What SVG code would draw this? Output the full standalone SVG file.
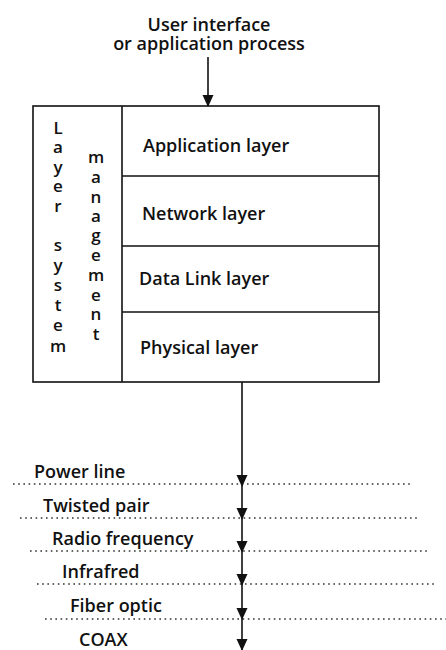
<svg xmlns="http://www.w3.org/2000/svg" width="446" height="650" viewBox="0 0 446 650">
<defs>
<marker id="ah" markerWidth="12" markerHeight="12" refX="11" refY="5.5" orient="auto" markerUnits="userSpaceOnUse">
<path d="M0,0 L12,5.5 L0,11 Z" fill="#111"/>
</marker>
<style>
text{font-family:"Open Sans","Noto Sans",sans-serif;font-size:18px;font-weight:600;fill:#111}
.v{text-anchor:middle;font-size:17px}
.box{fill:#fff;stroke:#111;stroke-width:1.6}
.ln{stroke:#111;stroke-width:1.6;fill:none}
.dot{stroke:#333;stroke-width:1.5;stroke-dasharray:1.6 3.6;fill:none}
</style>
</defs>
<rect width="446" height="650" fill="#fff"/>
<g id="title">
<text x="209" y="31" text-anchor="middle">User interface</text>
<text x="209" y="50" text-anchor="middle">or application process</text>
</g>
<g id="stack">
<rect class="box" x="33" y="106" width="346" height="276"/>
<line class="ln" x1="122" y1="106" x2="122" y2="382"/>
<line class="ln" x1="122" y1="176" x2="379" y2="176"/>
<line class="ln" x1="122" y1="246" x2="379" y2="246"/>
<line class="ln" x1="122" y1="312" x2="379" y2="312"/>
</g>
<g id="layer-system-management">
<text class="v"><tspan x="58" y="134">L</tspan><tspan x="58" y="153">a</tspan><tspan x="58" y="173">y</tspan><tspan x="58" y="192">e</tspan><tspan x="58" y="212">r</tspan><tspan x="58" y="251">s</tspan><tspan x="58" y="271">y</tspan><tspan x="58" y="291">s</tspan><tspan x="58" y="311">t</tspan><tspan x="58" y="331">e</tspan><tspan x="58" y="352">m</tspan></text>
<text class="v"><tspan x="96" y="163">m</tspan><tspan x="96" y="183">a</tspan><tspan x="96" y="203">n</tspan><tspan x="96" y="222">a</tspan><tspan x="96" y="241">g</tspan><tspan x="96" y="261">e</tspan><tspan x="96" y="281">m</tspan><tspan x="96" y="301">e</tspan><tspan x="96" y="320">n</tspan><tspan x="96" y="340">t</tspan></text>
</g>
<g id="application-layer"><text x="143" y="152">Application layer</text></g>
<g id="network-layer"><text x="142" y="220">Network layer</text></g>
<g id="data-link-layer"><text x="139" y="285">Data Link layer</text></g>
<g id="physical-layer"><text x="140" y="354">Physical layer</text></g>
<g id="media">
<line class="dot" x1="13" y1="484" x2="413" y2="484"/>
<line class="dot" x1="20" y1="518" x2="418" y2="518"/>
<line class="dot" x1="30" y1="551" x2="428" y2="551"/>
<line class="dot" x1="37" y1="584" x2="437" y2="584"/>
<line class="dot" x1="45" y1="619" x2="446" y2="619"/>
<text x="34" y="478">Power line</text>
<text x="43" y="512">Twisted pair</text>
<text x="52" y="545">Radio frequency</text>
<text x="62" y="578">Infrafred</text>
<text x="70" y="612">Fiber optic</text>
<text x="79" y="646">COAX</text>
</g>
<g id="connectors">
<line class="ln" x1="208" y1="57" x2="208" y2="106" marker-end="url(#ah)"/>
<line class="ln" x1="242" y1="382" x2="242" y2="486" marker-end="url(#ah)"/>
<line class="ln" x1="242" y1="486" x2="242" y2="519" marker-end="url(#ah)"/>
<line class="ln" x1="242" y1="519" x2="242" y2="552" marker-end="url(#ah)"/>
<line class="ln" x1="242" y1="552" x2="242" y2="585" marker-end="url(#ah)"/>
<line class="ln" x1="242" y1="585" x2="242" y2="619" marker-end="url(#ah)"/>
<line class="ln" x1="242" y1="619" x2="242" y2="650" marker-end="url(#ah)"/>
</g>
</svg>
